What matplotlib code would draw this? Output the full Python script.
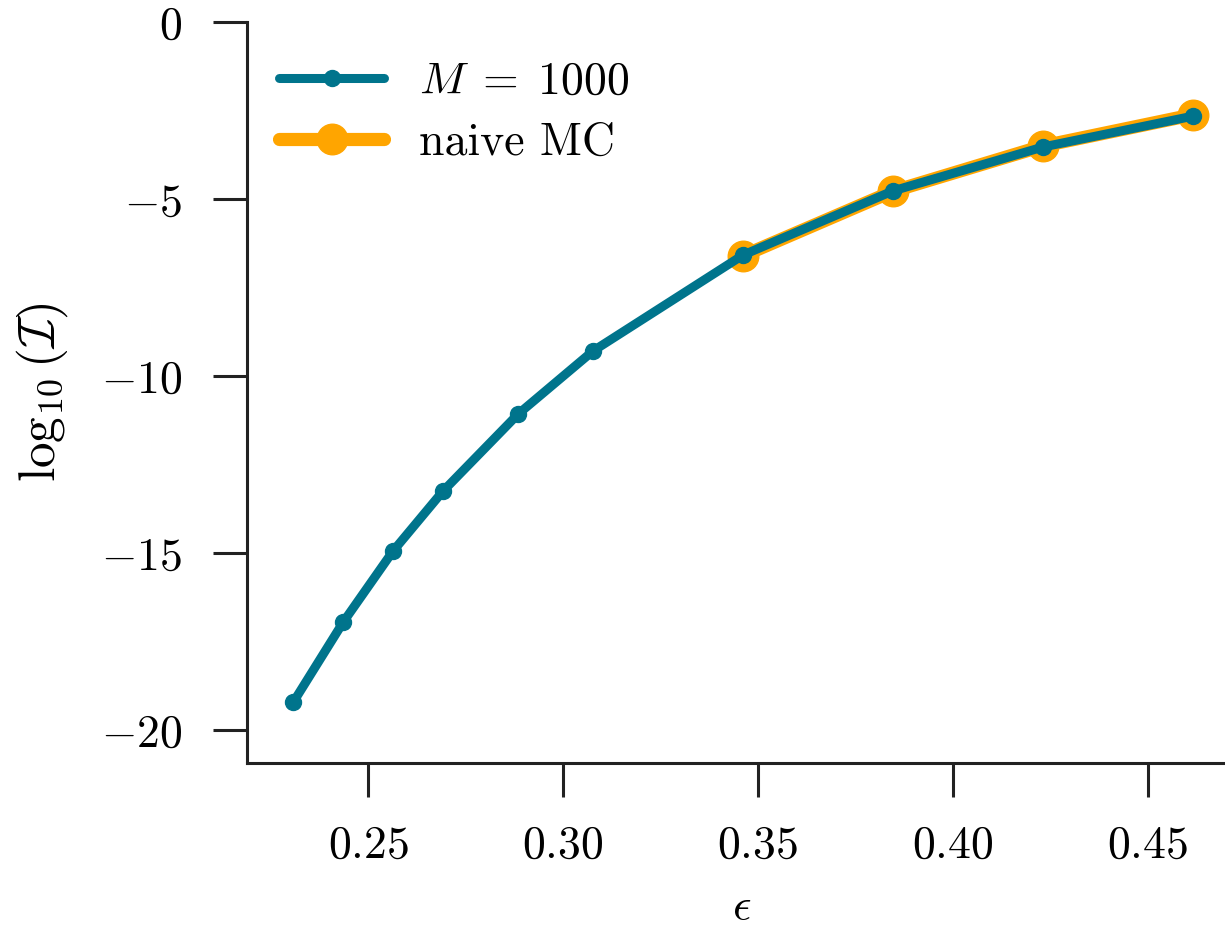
import matplotlib
matplotlib.use("Agg")
import matplotlib.pyplot as plt
from matplotlib.ticker import FuncFormatter

# Data
eps = [0.2308, 0.2436, 0.2564, 0.2692, 0.2885, 0.3077, 0.3462, 0.3846, 0.4231, 0.4615]
log_I = [-19.21, -16.95, -14.94, -13.25, -11.07, -9.29, -6.58, -4.77, -3.53, -2.66]
eps_naive = [0.3462, 0.3846, 0.4231, 0.4615]
log_I_naive = [-6.60, -4.78, -3.50, -2.62]
xticks = [0.25, 0.30, 0.35, 0.40, 0.45]
yticks = [0, -5, -10, -15, -20]

TEAL = "#00748C"
ORANGE = "#FFA500"
FS = 33

plt.rcParams["font.family"] = "cmr10"
plt.rcParams["mathtext.fontset"] = "cm"
plt.rcParams["axes.unicode_minus"] = False

fig = plt.figure(figsize=(12.25, 9.26), dpi=100)
ax = fig.add_axes([0.2016, 0.176, 0.80, 0.8002])

ax.plot(eps_naive, log_I_naive, color=ORANGE, lw=9.5, marker="o", ms=22,
        label="naive MC", zorder=2, solid_capstyle="round")
ax.plot(eps, log_I, color=TEAL, lw=6.5, marker="o", ms=11.5,
        label=r"$M\;=\;1000$", zorder=3, solid_capstyle="round")

ax.set_xlim(0.2189, 0.4703)
ax.set_ylim(-20.93, 0)
ax.set_xticks(xticks)
ax.set_yticks(yticks)
ax.xaxis.set_major_formatter(FuncFormatter(lambda v, p: f"${v:.2f}$"))
ax.yaxis.set_major_formatter(FuncFormatter(lambda v, p: f"${v:.0f}$"))

for side in ("top", "right"):
    ax.spines[side].set_visible(False)
for side in ("left", "bottom"):
    ax.spines[side].set_linewidth(2.2)
    ax.spines[side].set_color("#222222")

ax.tick_params(axis="both", length=24.5, width=2.2, color="#222222",
               labelsize=FS)
ax.tick_params(axis="x", pad=20)
ax.tick_params(axis="y", pad=22)

ax.set_xlabel(r"$\epsilon$", fontsize=FS)
ax.xaxis.set_label_coords(0.505, -0.168)
ax.set_ylabel(r"$\log_{10}(\mathcal{I})$", fontsize=37)
ax.yaxis.set_label_coords(-0.181, 0.5)

handles, labels = ax.get_legend_handles_labels()
leg = ax.legend(handles[::-1], labels[::-1], loc="upper left", frameon=False,
                fontsize=FS, handlelength=2.3, handletextpad=0.75,
                labelspacing=0.42, numpoints=1,
                bbox_to_anchor=(0.0, 0.99), borderaxespad=0.3)

fig.savefig("out.png", dpi=100)
